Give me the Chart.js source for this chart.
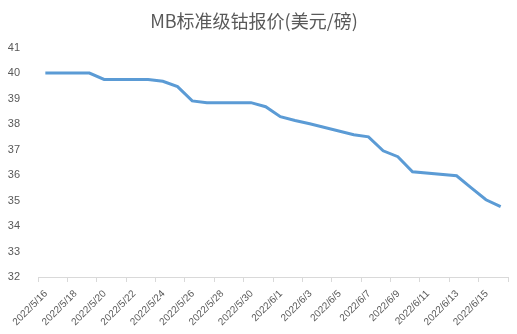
<!DOCTYPE html>
<html>
<head>
<meta charset="utf-8">
<script src="https://cdn.jsdelivr.net/npm/chart.js@4/dist/chart.umd.min.js"></script>
<style>
  html, body { margin: 0; padding: 0; background: #fff; }
  #wrap { width: 517px; height: 334px; }
</style>
</head>
<body>
<div id="wrap"><canvas id="line-chart"></canvas></div>
<script>
const dates = [
  "2022/5/16", "2022/5/17", "2022/5/18", "2022/5/19", "2022/5/20",
  "2022/5/23", "2022/5/24", "2022/5/25", "2022/5/26", "2022/5/27",
  "2022/5/30", "2022/5/31", "2022/6/1", "2022/6/2", "2022/6/3",
  "2022/6/6", "2022/6/7", "2022/6/8", "2022/6/9", "2022/6/10",
  "2022/6/13", "2022/6/14", "2022/6/15", "2022/6/16"
];
const prices = [
  40.0, 40.0, 40.0, 40.0, 39.75,
  39.75, 39.68, 39.47, 38.91, 38.84,
  38.84, 38.68, 38.29, 38.14, 38.01,
  37.58, 37.5, 36.95, 36.72, 36.13,
  35.97, 35.5, 35.03, 34.76
];
const yTicks = [32, 33, 34, 35, 36, 37, 38, 39, 40, 41];
const startDate = "2022/5/16";
const endDate = "2022/6/17";

const DAY = 86400000;
function toDay(s) {
  const p = s.split("/").map(Number);
  return Date.UTC(p[0], p[1] - 1, p[2]) / DAY;
}
const day0 = toDay(startDate);
function dayLabel(n) {
  const d = new Date((day0 + n) * DAY);
  return d.getUTCFullYear() + "/" + (d.getUTCMonth() + 1) + "/" + d.getUTCDate();
}
// Excel date axis: each point sits in the middle of its day
const points = dates.map((s, i) => ({ x: toDay(s) - day0 + 0.5, y: prices[i] }));
const lastDay = toDay(endDate) - day0;

const config_line = {
  type: "line",
  data: {
    datasets: [
      {
        label: "MB标准级钴报价",
        data: points,
        borderColor: "#5B9BD5",
        borderWidth: 3,
        pointRadius: 0,
        tension: 0,
        fill: false,
      },
    ],
  },
  options: {
    responsive: true,
    maintainAspectRatio: false,
    animation: false,
    layout: { padding: { left: 0, right: 9, top: 0, bottom: 0 } },
    plugins: {
      legend: { display: false },
      tooltip: { enabled: false },
      title: {
        display: true,
        text: "MB标准级钴报价(美元/磅)",
        color: "#595959",
        font: { family: "'Noto Sans CJK SC', sans-serif", size: 18, weight: "normal" },
        padding: { top: 10, bottom: 16 },
      },
    },
    scales: {
      x: {
        type: "linear",
        min: 0,
        max: lastDay,
        afterBuildTicks: (axis) => {
          const t = [];
          for (let v = 0; v <= lastDay; v += 2) t.push({ value: v });
          axis.ticks = t;
        },
        afterFit: (axis) => {
          axis.height = 57;
          axis.paddingRight = 0;
        },
        ticks: {
          autoSkip: false,
          minRotation: 45,
          maxRotation: 45,
          color: "#595959",
          font: { family: "'Liberation Sans', sans-serif", size: 10 },
          padding: 6,
          labelOffset: 8,
          callback: (v) => (v < lastDay ? dayLabel(v) : ""),
        },
        grid: {
          drawOnChartArea: false,
          drawTicks: true,
          tickLength: 5,
          color: "#d9d9d9",
        },
        border: { color: "#d9d9d9", width: 1 },
      },
      y: {
        min: yTicks[0],
        max: yTicks[yTicks.length - 1],
        afterBuildTicks: (axis) => {
          axis.ticks = yTicks.map((v) => ({ value: v }));
        },
        afterFit: (axis) => {
          axis.width = 38;
        },
        ticks: {
          color: "#595959",
          font: { family: "'Liberation Sans', sans-serif", size: 11 },
          padding: 10,
        },
        grid: { display: false },
        border: { display: false },
      },
    },
  },
};
var ctx_line = document.getElementById("line-chart").getContext("2d");
var myChart_line = new Chart(ctx_line, config_line);
</script>
</body>
</html>
